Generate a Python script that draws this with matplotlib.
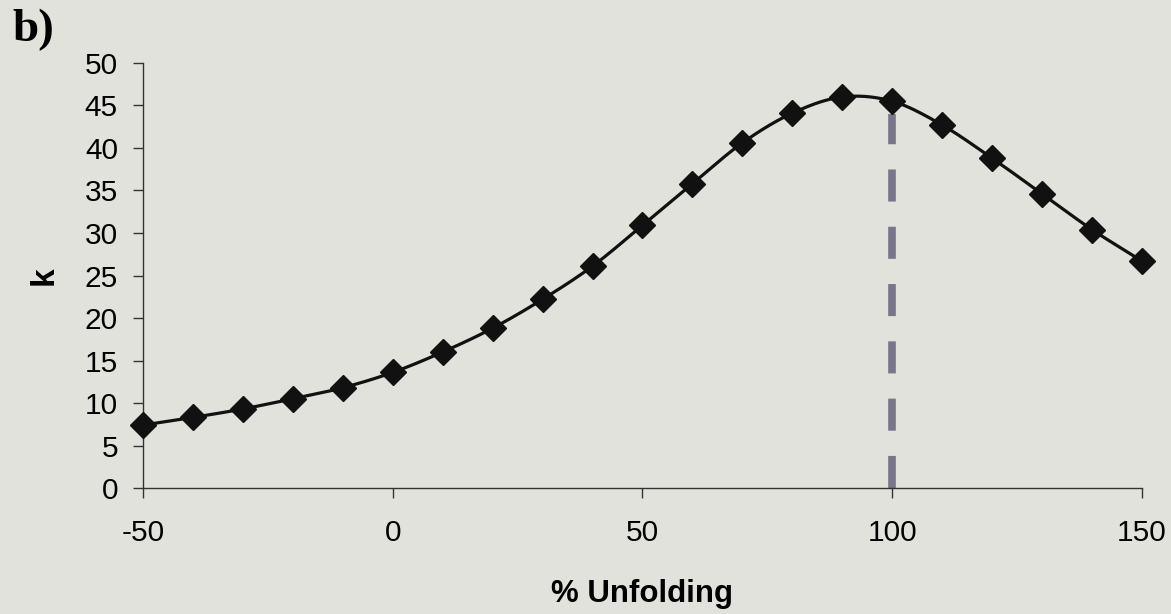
import numpy as np
import matplotlib.pyplot as plt

# unfolding percentage and k values
unfolding = [-50, -40, -30, -20, -10, 0, 10, 20, 30, 40, 50,
             60, 70, 80, 90, 100, 110, 120, 130, 140, 150]
k_values = [7.4, 8.3, 9.3, 10.5, 11.8, 13.6, 16.0, 18.8, 22.2, 26.1, 30.9,
            35.8, 40.6, 44.1, 46.0, 45.5, 42.7, 38.8, 34.6, 30.4, 26.7]
marker_x = 100
marker_top = 44.0

bg = '#e2e2dd'


##smooth line through the points, like a spreadsheet "smoothed line"
def catmull_rom(x, y, n=20):
	x = np.asarray(x, float)
	y = np.asarray(y, float)
	px = np.concatenate([[2 * x[0] - x[1]], x, [2 * x[-1] - x[-2]]])
	py = np.concatenate([[2 * y[0] - y[1]], y, [2 * y[-1] - y[-2]]])
	t = np.linspace(0, 1, n, endpoint=False)
	xs, ys = [], []
	for i in range(1, len(px) - 2):
		for p, out in ((px, xs), (py, ys)):
			p0, p1, p2, p3 = p[i - 1], p[i], p[i + 1], p[i + 2]
			out.extend(0.5 * (2 * p1 + (-p0 + p2) * t
							  + (2 * p0 - 5 * p1 + 4 * p2 - p3) * t ** 2
							  + (-p0 + 3 * p1 - 3 * p2 + p3) * t ** 3))
	xs.append(x[-1])
	ys.append(y[-1])
	return np.array(xs), np.array(ys)


plt.rcParams['font.family'] = ['Liberation Sans', 'DejaVu Sans']
plt.rcParams['axes.unicode_minus'] = False

fig = plt.figure(figsize=(11.71, 6.14), dpi=100, facecolor=bg)
ax = fig.add_axes([0.1221, 0.2052, 0.8531, 0.6922])
ax.set_facecolor(bg)

sx, sy = catmull_rom(unfolding, k_values)
ax.plot(sx, sy, color='#111111', lw=2.3, zorder=3, clip_on=False)
ax.plot(unfolding, k_values, ls='none', marker='D', ms=13.5, color='#111111',
		zorder=4, clip_on=False)
ax.plot([marker_x, marker_x], [0, marker_top], color='#787688', lw=5.5,
		dashes=(4.2, 3.3), solid_capstyle='butt', dash_capstyle='butt', zorder=2)

ax.set_xlim(-50, 150)
ax.set_ylim(0, 50)
ax.set_xticks([-50, 0, 50, 100, 150])
ax.set_yticks(range(0, 51, 5))
ax.tick_params(axis='both', labelsize=21.5, length=7, width=1, color='#333333',
			   direction='out')
ax.tick_params(axis='x', pad=15)
ax.tick_params(axis='y', pad=11)
for s in ['top', 'right']:
	ax.spines[s].set_visible(False)
for s in ['left', 'bottom']:
	ax.spines[s].set_color('#333333')
	ax.spines[s].set_linewidth(1)

ax.set_xlabel('% Unfolding', fontsize=22.5, fontweight='bold', labelpad=23)
ax.set_ylabel('k', fontsize=24, fontweight='bold', labelpad=18)
fig.text(0.011, 0.985, 'b)', fontsize=34, fontweight='bold',
		 family='Liberation Serif', va='top', ha='left')

plt.savefig('out.png', dpi=100, facecolor=bg)
